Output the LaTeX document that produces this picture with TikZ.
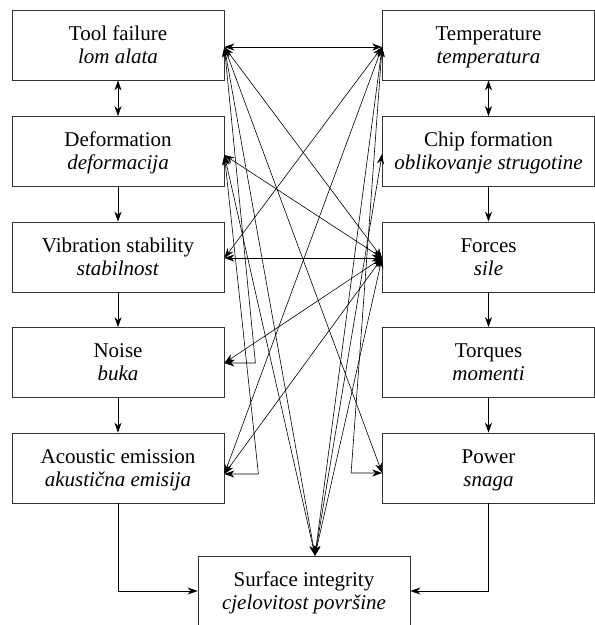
\documentclass[tikz,border=0pt]{standalone}
\usepackage{fontspec}
\setmainfont{LiberationSerif}[Extension=.ttf, UprightFont=*-Regular, ItalicFont=*-Italic, BoldFont=*-Bold, BoldItalicFont=*-BoldItalic]
\usetikzlibrary{arrows.meta,calc}
\begin{document}
\begin{tikzpicture}[x=1pt,y=-1pt,
  box/.style={draw=black!80, line width=0.8pt, minimum width=212pt, minimum height=70pt,
    inner sep=0pt, align=center, font=\fontsize{21}{23}\selectfont},
  tip/.tip={Stealth[length=10pt,width=7pt]},
  both/.style={line width=0.6pt, tip-tip},
  fwd/.style={line width=0.6pt, -tip}]
\useasboundingbox (0,0) rectangle (595,625);
\newcommand{\tl}[2]{\rule{0pt}{18pt}#1\\\textit{#2}\rule[-5pt]{0pt}{5pt}}
% left column
\node[box] (tf)  at (118,45)    {\tl{Tool failure}{lom alata}};
\node[box] (def) at (118,151.5) {\tl{Deformation}{deformacija}};
\node[box] (vib) at (118,257)   {\tl{Vibration stability}{stabilnost}};
\node[box] (noi) at (118,362.5) {\tl{Noise}{buka}};
\node[box] (ae)  at (118,468)   {\tl{Acoustic emission}{akustična emisija}};
% right column
\node[box] (temp) at (488.5,45)    {\tl{Temperature}{temperatura}};
\node[box] (chip) at (488.5,151.5) {\tl{Chip formation}{oblikovanje strugotine}};
\node[box] (for)  at (488.5,257)   {\tl{Forces}{sile}};
\node[box] (tor)  at (488.5,362.5) {\tl{Torques}{momenti}};
\node[box] (pow)  at (488.5,468)   {\tl{Power}{snaga}};
% bottom
\node[box] (surf) at (304,591) {\tl{Surface integrity}{cjelovitost površine}};
% anchor points
\coordinate (tfR)   at ($(tf.east)+(0,2)$);
\coordinate (defR)  at ($(def.east)+(0,3.5)$);
\coordinate (vibR)  at ($(vib.east)+(0,1)$);
\coordinate (noiR)  at ($(noi.east)+(0,0.5)$);
\coordinate (aeR)   at ($(ae.east)+(0,6)$);
\coordinate (tempL) at ($(temp.west)+(0,2)$);
\coordinate (chipL) at ($(chip.west)+(0,2.5)$);
\coordinate (forL)  at ($(for.west)+(0,1)$);
\coordinate (powL)  at ($(pow.west)+(0,5)$);
\coordinate (surfT) at ($(surf.north)+(11,0)$);
\coordinate (noiC)  at ($(noiR)+(31,0)$);
\coordinate (aeC)   at ($(aeR)+(34,0)$);
\coordinate (powC)  at ($(powL)+(-31,0)$);
% column chains
\draw[both] (tf.south) -- (def.north);
\draw[fwd] (def.south) -- (vib.north);
\draw[fwd] (vib.south) -- (noi.north);
\draw[fwd] (noi.south) -- (ae.north);
\draw[both] (temp.south) -- (chip.north);
\draw[fwd] (chip.south) -- (for.north);
\draw[fwd] (for.south) -- (tor.north);
\draw[fwd] (tor.south) -- (pow.north);
\draw[fwd] (ae.south) |- (surf.west);
\draw[fwd] (pow.south) |- (surf.east);
% cross links
\draw[both] (tfR) -- (tempL);
\draw[both] (tfR) -- (forL);
\draw[both] (tfR) -- (powL);
\draw[both] (tfR) -- (noiC) -- (noiR);
\draw[both] (defR) -- (forL);
\draw[both] (defR) -- (aeC) -- (aeR);
\draw[both] (vibR) -- (forL);
\draw[both] (vibR) -- (tempL);
\draw[both] (noiR) -- (forL);
\draw[both] (aeR) -- (tempL);
\draw[both] (aeR) -- (forL);
\draw[both] (tempL) -- (powC) -- (powL);
% links to surface integrity
\draw[both] (tfR) -- (surfT);
\draw[both] (defR) -- (surfT);
\draw[both] (tempL) -- (surfT);
\draw[both] (chipL) -- (surfT);
\draw[both] (forL) -- (surfT);
\end{tikzpicture}
\end{document}
